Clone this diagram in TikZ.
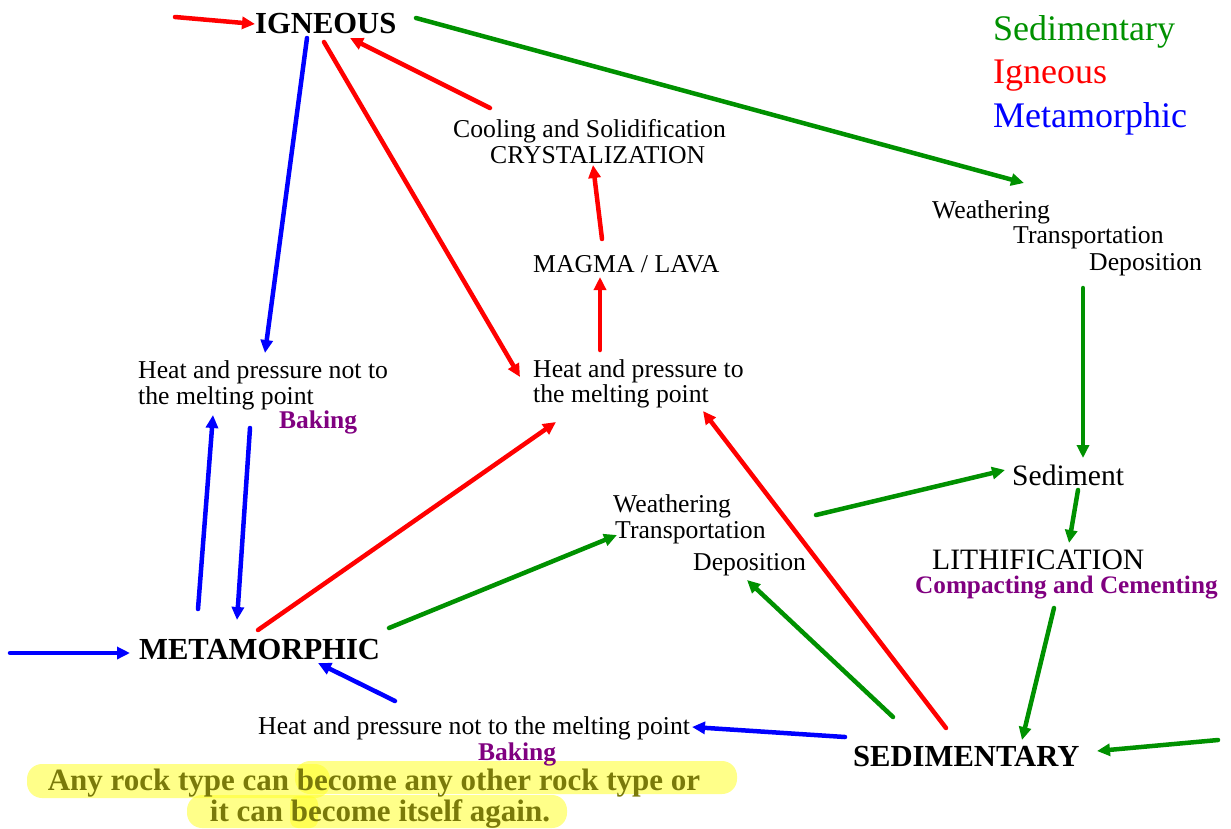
\documentclass[tikz,border=0pt]{standalone}
\usepackage{fontspec}
\setmainfont{Liberation Serif}
\usetikzlibrary{arrows.meta,calc}
\definecolor{cgreen}{RGB}{0,145,0}
\definecolor{cred}{RGB}{255,0,0}
\definecolor{cblue}{RGB}{0,0,255}
\definecolor{cpurple}{RGB}{128,0,128}
\definecolor{colive}{RGB}{122,122,10}
\definecolor{hlyellow}{RGB}{255,255,40}
\tikzset{
  lbl/.style={anchor=base west, inner sep=0pt, font=\fontsize{25.7}{27}\selectfont},
  big/.style={anchor=base west, inner sep=0pt, font=\bfseries\fontsize{30.6}{32}\selectfont},
  mid/.style={anchor=base west, inner sep=0pt, font=\fontsize{29.6}{31}\selectfont},
  purp/.style={anchor=base west, inner sep=0pt, text=cpurple, font=\bfseries\fontsize{25.5}{27}\selectfont},
  legend/.style={anchor=base west, inner sep=0pt, font=\fontsize{36}{38}\selectfont},
  notetxt/.style={anchor=base, inner sep=0pt, text=colive, font=\bfseries\fontsize{31}{33}\selectfont},
  hl/.style={fill=hlyellow, fill opacity=0.55, rounded corners=15pt},
  arr/.style={line width=4.5pt, line cap=round, -{Triangle[length=13pt,width=12pt]}},
  rarr/.style={arr, draw=cred},
  barr/.style={arr, draw=cblue},
  garr/.style={arr, draw=cgreen}
}
\begin{document}
\begin{tikzpicture}[x=1pt,y=-1pt]
\useasboundingbox (0,0) rectangle (1231,828);
% highlight strokes
\fill[hl] (27,764) rectangle (330,798);
\fill[hl] (295,761) rectangle (737,794);
\fill[hl] (187,795) rectangle (567,828);
\fill[hl, rounded corners=8pt] (290,796) rectangle (318,828);
% nodes
\node[big] (ign) at (255,33) {IGNEOUS};
\node[big] (meta) at (139,659) {METAMORPHIC};
\node[big] (sed) at (853,766) {SEDIMENTARY};
\node[legend, text=cgreen] (legS) at (993,40) {Sedimentary};
\node[legend, text=cred] (legI) at (993,83) {Igneous};
\node[legend, text=cblue] (legM) at (993,127) {Metamorphic};
\node[lbl] (cool) at (453,137) {Cooling and Solidification};
\node[lbl] (cryst) at (490,163) {CRYSTALIZATION};
\node[lbl] (magma) at (533,272) {MAGMA / LAVA};
\node[lbl] (hpm1) at (533,377) {Heat and pressure to};
\node[lbl] (hpm2) at (533,402) {the melting point};
\node[lbl] (hpn1) at (138,378) {Heat and pressure not to};
\node[lbl] (hpn2) at (138,404) {the melting point};
\node[purp] (bake1) at (279,428) {Baking};
\node[lbl] (wtr1) at (932,218) {Weathering};
\node[lbl] (wtr2) at (1013,243) {Transportation};
\node[lbl] (wtr3) at (1089,270) {Deposition};
\node[mid] (sediment) at (1012,485) {Sediment};
\node[mid] (lith) at (932,569) {LITHIFICATION};
\node[purp, font=\bfseries\fontsize{25.2}{27}\selectfont] (comp) at (915,593) {Compacting and Cementing};
\node[lbl] (wtm1) at (613,512) {Weathering};
\node[lbl] (wtm2) at (615,538) {Transportation};
\node[lbl] (wtm3) at (693,570) {Deposition};
\node[lbl] (hpb) at (258,734) {Heat and pressure not to the melting point};
\node[purp] (bake2) at (478,760) {Baking};
\node[notetxt] (note1) at (374,790) {Any rock type can become any other rock type or};
\node[notetxt] (note2) at (380,821) {it can become itself again.};
% free ends
\coordinate (inI) at (175,17);
\coordinate (inM) at (10,653);
\coordinate (inS) at (1218,740);
% red
\draw[rarr] (inI) -- ($(ign.base west)+(0,-9)$);
\draw[rarr] ($(cool.base west)+(37,-29)$) -- ($(ign.base west)+(95,5)$);
\draw[rarr] ($(ign.base west)+(69,9)$) -- ($(hpm1.base west)+(-13,0)$);
\draw[rarr] ($(hpm1.base west)+(67,-27)$) -- ($(magma.base west)+(67,5)$);
\draw[rarr] ($(magma.base west)+(69,-33)$) -- ($(cryst.base west)+(103,2)$);
\draw[rarr] ($(meta.base west)+(119,-29)$) -- ($(hpm2.base west)+(23,20)$);
\draw[rarr] ($(sed.base west)+(93,-38)$) -- ($(hpm2.base west)+(170,9)$);
% blue
\draw[barr] ($(ign.base west)+(52,5)$) -- ($(hpn1.base west)+(127,-25)$);
\draw[barr] ($(meta.base west)+(59,-50)$) -- ($(hpn2.base west)+(75,11)$);
\draw[barr] ($(hpn2.base west)+(112,24)$) -- ($(meta.base west)+(98,-39)$);
\draw[barr] (inM) -- ($(meta.base west)+(-9,-6)$);
\draw[barr] ($(hpb.base west)+(137,-33)$) -- ($(meta.base west)+(179,4)$);
\draw[barr] ($(sed.base west)+(-8,-29)$) -- ($(hpb.base west)+(434,-7)$);
% green
\draw[garr] ($(ign.base west)+(161,-15)$) -- ($(wtr1.base west)+(92,-35)$);
\draw[garr] ($(wtr3.base west)+(-6,18)$) -- ($(sediment.base west)+(71,-27)$);
\draw[garr] ($(wtm2.base west)+(201,-23)$) -- ($(sediment.base west)+(-7,-15)$);
\draw[garr] ($(sediment.base west)+(66,5)$) -- ($(lith.base west)+(137,-26)$);
\draw[garr] ($(comp.base west)+(139,15)$) -- ($(sed.base west)+(169,-26)$);
\draw[garr] (inS) -- ($(sed.base west)+(244,-15)$);
\draw[garr] ($(meta.base west)+(250,-31)$) -- ($(wtm2.base west)+(2,-3)$);
\draw[garr] ($(sed.base west)+(40,-49)$) -- ($(wtm3.base west)+(54,10)$);
\end{tikzpicture}
\end{document}
